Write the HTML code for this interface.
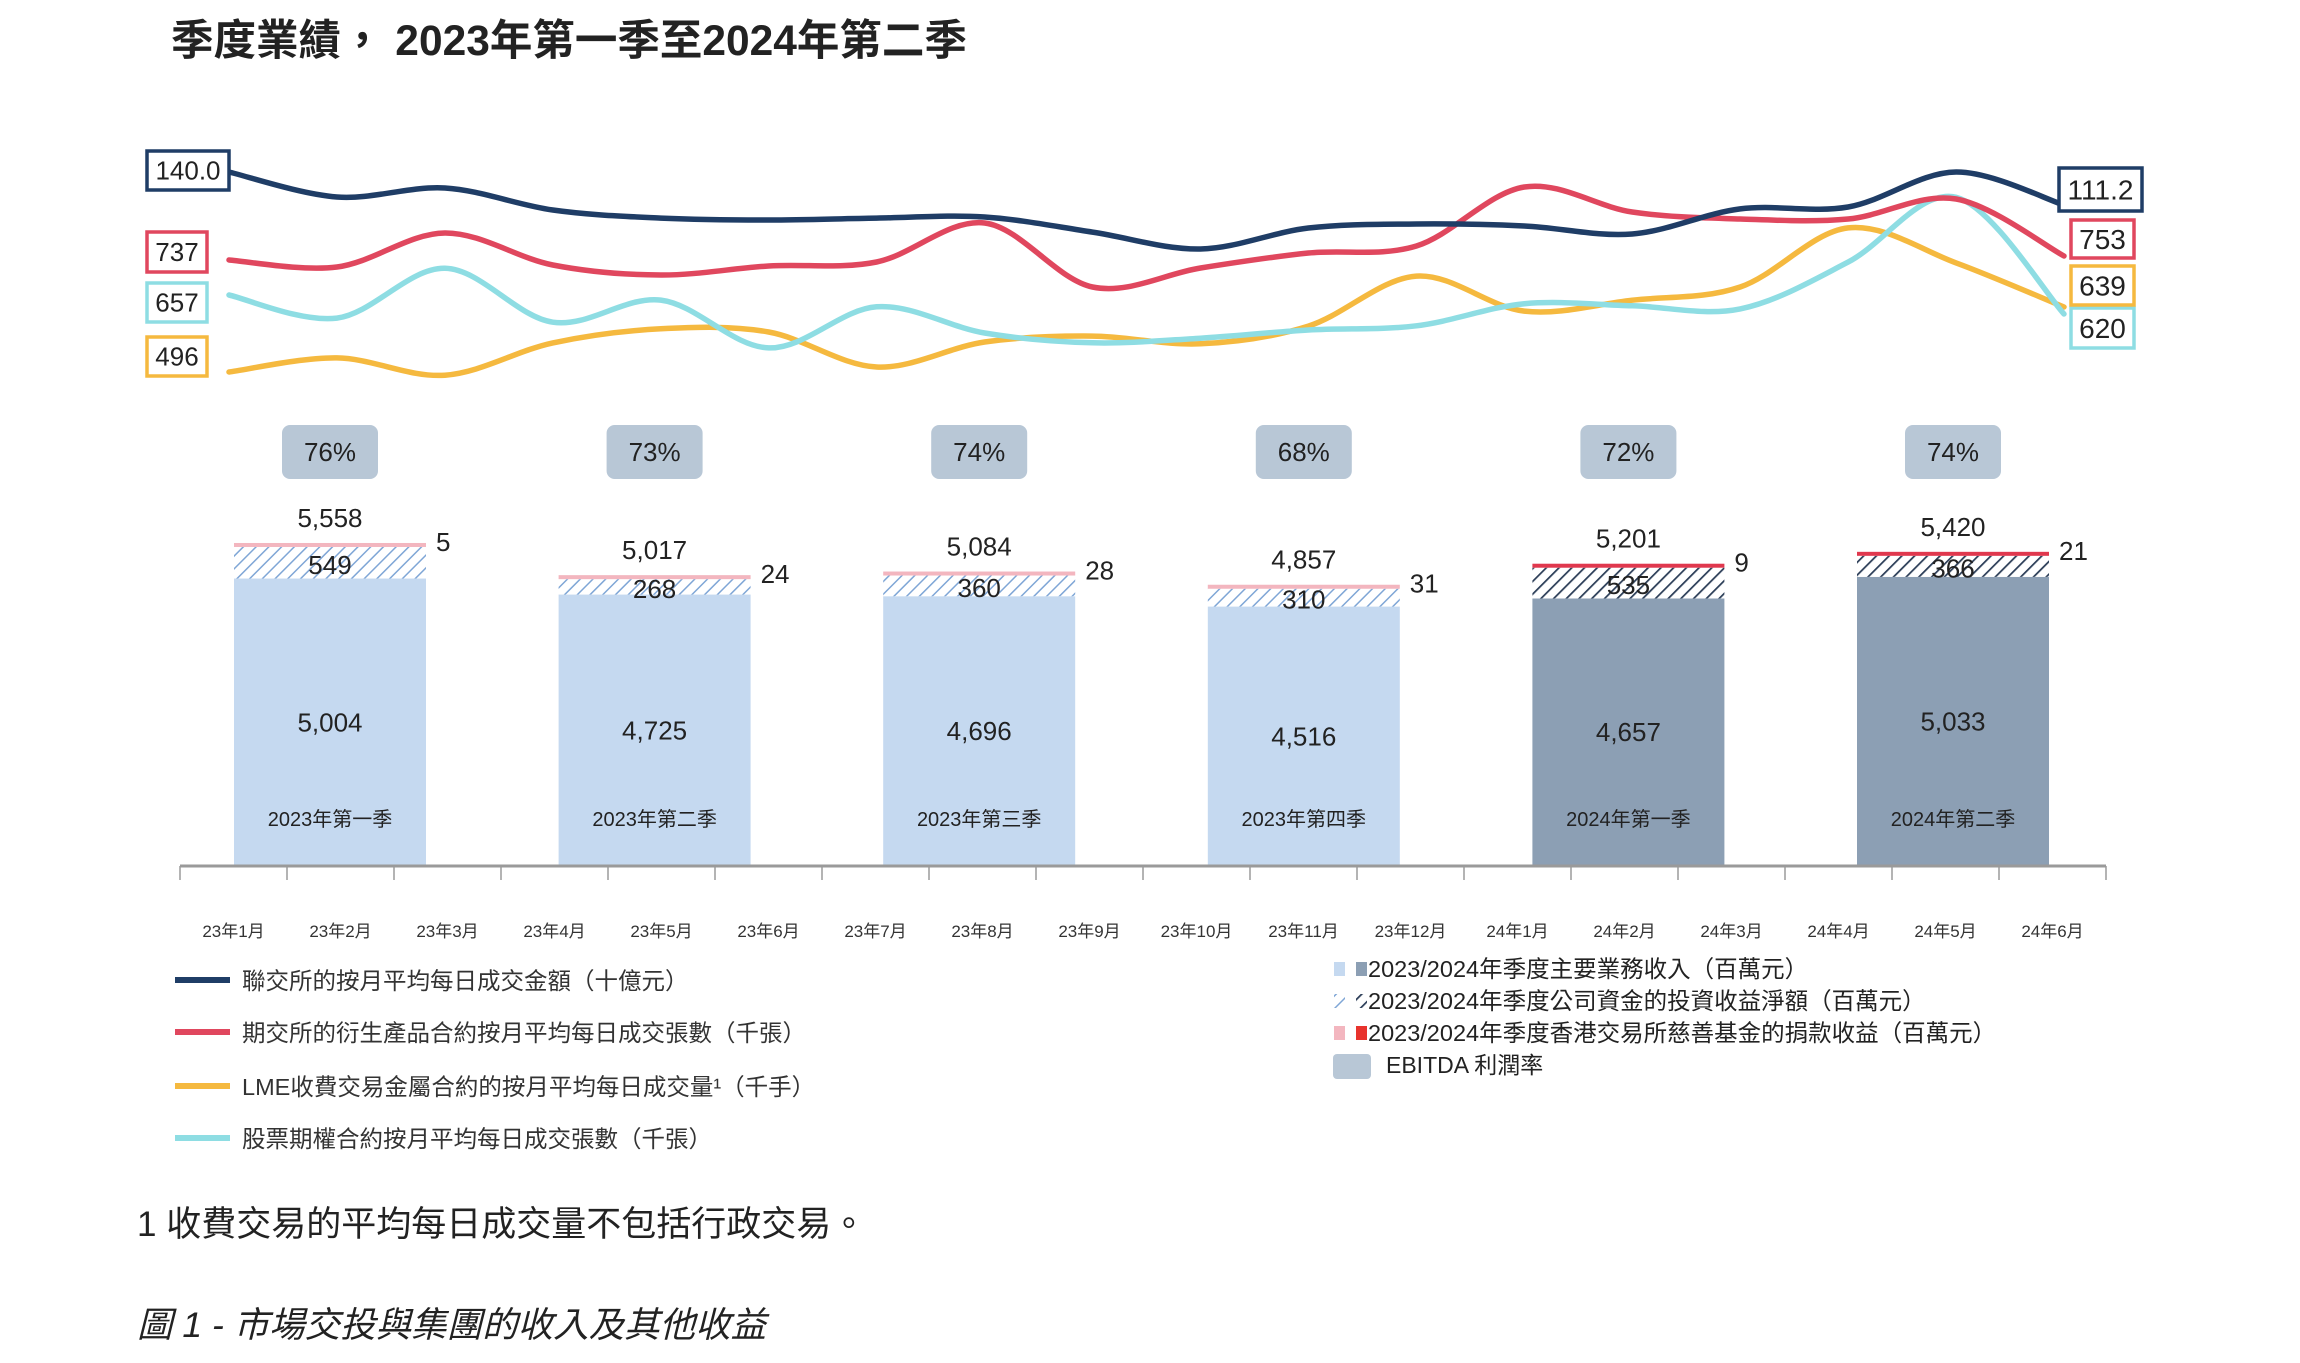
<!DOCTYPE html>
<html><head><meta charset="utf-8">
<style>
html,body{margin:0;padding:0;background:#fff;}
body{width:2300px;height:1358px;overflow:hidden;font-family:"Liberation Sans","Noto Sans CJK TC",sans-serif;}
svg text{font-family:"Liberation Sans Narrow","Liberation Sans","Noto Sans CJK TC",sans-serif;}
</style></head>
<body>
<svg id="chart" width="2300" height="1358" viewBox="0 0 2300 1358" xmlns="http://www.w3.org/2000/svg">
<defs>
<pattern id="hatchLight" patternUnits="userSpaceOnUse" width="9" height="9" patternTransform="rotate(45)">
<rect width="9" height="9" fill="#ffffff"/><line x1="0" y1="0" x2="0" y2="9" stroke="#7fa6d6" stroke-width="3"/></pattern>
<pattern id="hatchDark" patternUnits="userSpaceOnUse" width="9" height="9" patternTransform="rotate(45)">
<rect width="9" height="9" fill="#ffffff"/><line x1="0" y1="0" x2="0" y2="9" stroke="#2b3d57" stroke-width="3.5"/></pattern>
</defs>
<text x="171" y="55" font-size="42.5" font-weight="bold" fill="#222" style="font-family:'Liberation Sans','Noto Sans CJK TC',sans-serif">季度業績， 2023年第一季至2024年第二季</text>
<g id="lines"></g>
<g id="bars"></g>
<g id="axis"></g>
<g id="legend"></g>
<text x="137" y="1236" font-size="35" fill="#222" style="font-family:'Liberation Sans','Noto Sans CJK TC',sans-serif">1 收費交易的平均每日成交量不包括行政交易。</text>
<text x="137" y="1337" font-size="35.5" font-style="italic" fill="#222" style="font-family:'Liberation Sans','Noto Sans CJK TC',sans-serif">圖 1 - 市場交投與集團的收入及其他收益</text>
</svg>
<script>
const months = ["23年1月","23年2月","23年3月","23年4月","23年5月","23年6月","23年7月","23年8月","23年9月","23年10月","23年11月","23年12月","24年1月","24年2月","24年3月","24年4月","24年5月","24年6月"];
const turnoverHKEX = [140.0,118.2,126.0,106.8,99.8,98.1,99.8,100.7,87.6,72.8,91.1,94.6,92.9,85.9,107.8,109.5,140.0,111.2];
const derivContracts = [737,709,845,717,677,713,729,885,629,705,765,793,1029,929,901,901,981,753];
const lmeLots = [496,527,489,560,591,584,507,562,575,558,597,707,630,654,683,813,736,639];
const stockOptions = [657,612,709,604,647,554,634,583,564,573,589,597,640,636,630,721,847,620];
const quarters = ["2023年第一季","2023年第二季","2023年第三季","2023年第四季","2024年第一季","2024年第二季"];
const coreRevenue = [5004,4725,4696,4516,4657,5033];
const investIncome = [549,268,360,310,535,366];
const donationIncome = [5,24,28,31,9,21];
const totalLabels = ["5,558","5,017","5,084","4,857","5,201","5,420"];
const ebitdaMargin = [76,73,74,68,72,74];

const NS="http://www.w3.org/2000/svg";
function mk(tag,attrs,parent,txt){const e=document.createElementNS(NS,tag);for(const k in attrs)e.setAttribute(k,attrs[k]);if(txt!==undefined)e.textContent=txt;parent.appendChild(e);return e;}
function fmt(v){return v.toLocaleString("en-US");}

const axX0=180, axX1=2106, baseY=866;
const monthW=(axX1-axX0)/months.length;
const xMonth=i=>229+i*(2064-229)/(months.length-1);
const yBar=v=>baseY-v*0.05745;

const gl=document.getElementById("lines");
const series=[
 {name:"hkex-turnover-line",data:turnoverHKEX,color:"#1f3d66",y:v=>172+(140-v)*1.146,fmtv:v=>v.toFixed(1),lbox:[147,151,82,39],rbox:[2059,168,83,43]},
 {name:"derivatives-contracts-line",data:derivContracts,color:"#e0475e",y:v=>260-(v-737)*0.25,fmtv:v=>String(v),lbox:[147,232,60,40],rbox:[2071,220,63,38]},
 {name:"stock-options-line",data:stockOptions,color:"#8edde3",y:v=>295-(v-657)*0.514,fmtv:v=>String(v),lbox:[147,283,60,39],rbox:[2071,308,63,40]},
 {name:"lme-lots-line",data:lmeLots,color:"#f5b93f",y:v=>372-(v-496)*0.4545,fmtv:v=>String(v),lbox:[147,337,60,39],rbox:[2071,266,63,39]}
];
function smoothPath(pts){let d="M"+pts[0][0]+","+pts[0][1];for(let i=0;i<pts.length-1;i++){const p0=pts[i-1]||pts[i],p1=pts[i],p2=pts[i+1],p3=pts[i+2]||p2;const t=6;const c1=[p1[0]+(p2[0]-p0[0])/t,p1[1]+(p2[1]-p0[1])/t];const c2=[p2[0]-(p3[0]-p1[0])/t,p2[1]-(p3[1]-p1[1])/t];d+=" C"+c1[0].toFixed(1)+","+c1[1].toFixed(1)+" "+c2[0].toFixed(1)+","+c2[1].toFixed(1)+" "+p2[0].toFixed(1)+","+p2[1].toFixed(1);}return d;}
[series[3],series[2],series[1],series[0]].forEach(s=>{
 const pts=s.data.map((v,i)=>[xMonth(i),s.y(v)]);
 const p=mk("path",{d:smoothPath(pts),fill:"none",stroke:s.color,"stroke-width":5.5,"stroke-linecap":"round"},gl);
 
 
});
series.forEach(s=>{
 [[s.lbox,s.data[0]],[s.rbox,s.data[s.data.length-1]]].forEach(([b,v],k)=>{
  const g=mk("g",{},gl);
  
  
  mk("rect",{x:b[0],y:b[1],width:b[2],height:b[3],fill:"#fff",stroke:s.color,"stroke-width":3.5},g);
  mk("text",{x:b[0]+b[2]/2,y:b[1]+b[3]/2+(k?10:9),"font-size":k?28:26,"text-anchor":"middle",fill:"#222"},g,s.fmtv(v));
 });
});

const gb=document.getElementById("bars");
const barW=192;
quarters.forEach((q,i)=>{
 const cx=330+i*324.6, x=cx-barW/2, dark=i>=4;
 const g=mk("g",{},gb);
 
 
 const mTop=yBar(coreRevenue[i]);
 const r1=mk("rect",{x:x,y:mTop,width:barW,height:baseY-mTop,fill:dark?"#8c9fb4":"#c5d9f0"},g);
 
 
 const iTop=yBar(coreRevenue[i]+investIncome[i]);
 const r2=mk("rect",{x:x,y:iTop,width:barW,height:mTop-iTop,fill:dark?"url(#hatchDark)":"url(#hatchLight)"},g);
 
 
 const dH=Math.max(4,donationIncome[i]*0.05745);
 const r3=mk("rect",{x:x,y:iTop-dH,width:barW,height:dH,fill:dark?"#e0384e":"#f3b6bf"},g);
 
 
 const top=iTop-dH;
 mk("text",{x:cx,y:top-16,"font-size":26,"text-anchor":"middle",fill:"#222"},g,totalLabels[i]);
 mk("text",{x:x+barW+10,y:top+8,"font-size":26,fill:"#222"},g,String(donationIncome[i]));
 mk("text",{x:cx,y:(iTop+mTop)/2+11,"font-size":26,"text-anchor":"middle",fill:"#222"},g,String(investIncome[i]));
 mk("text",{x:cx,y:(mTop+baseY)/2+9,"font-size":26,"text-anchor":"middle",fill:"#222"},g,fmt(coreRevenue[i]));
 mk("text",{x:cx,y:826,"font-size":20,"text-anchor":"middle",fill:"#222",style:"font-family:'Liberation Sans','Noto Sans CJK TC',sans-serif"},g,q);
 const eb=mk("g",{},gb);
 
 
 mk("rect",{x:cx-48,y:425,width:96,height:54,rx:8,fill:"#b8c7d6"},eb);
 mk("text",{x:cx,y:461,"font-size":26,"text-anchor":"middle",fill:"#222"},eb,ebitdaMargin[i]+"%");
});

const ga=document.getElementById("axis");
const al=mk("line",{x1:axX0,y1:baseY,x2:axX1,y2:baseY,stroke:"#9a9a9a","stroke-width":3},ga);


for(let i=0;i<=months.length;i++){const tx=axX0+i*monthW;mk("line",{x1:tx,y1:baseY,x2:tx,y2:baseY+14,stroke:"#9a9a9a","stroke-width":1.5},ga);}
months.forEach((m,i)=>{
 const t=mk("text",{x:axX0+(i+0.5)*monthW,y:937,"font-size":17,"text-anchor":"middle",fill:"#333",style:"font-family:'Liberation Sans','Noto Sans CJK TC',sans-serif"},ga,m);
 
 
});

const lg=document.getElementById("legend");
const lineLegend=[["#1f3d66","聯交所的按月平均每日成交金額（十億元）"],["#e0475e","期交所的衍生產品合約按月平均每日成交張數（千張）"],["#f5b93f","LME收費交易金屬合約的按月平均每日成交量¹（千手）"],["#8edde3","股票期權合約按月平均每日成交張數（千張）"]];
const ly=[981,1033,1087,1139];
lineLegend.forEach((e,i)=>{
 const g=mk("g",{},lg);
 
 
 mk("line",{x1:175,y1:ly[i]-1,x2:230,y2:ly[i]-1,stroke:e[0],"stroke-width":6},g);
 mk("text",{x:242,y:ly[i]+8,"font-size":23.5,fill:"#333",style:"font-family:'Liberation Sans','Noto Sans CJK TC',sans-serif"},g,e[1]);
});
const barLegend=["2023/2024年季度主要業務收入（百萬元）","2023/2024年季度公司資金的投資收益淨額（百萬元）","2023/2024年季度香港交易所慈善基金的捐款收益（百萬元）"];
const by=[969,1001,1033];
barLegend.forEach((t,i)=>{
 const g=mk("g",{},lg);
 
 
 if(i===0){mk("rect",{x:1334,y:by[i]-7,width:11,height:14,fill:"#c5d9f0"},g);mk("rect",{x:1356,y:by[i]-7,width:11,height:14,fill:"#8c9fb4"},g);}
 if(i===1){mk("rect",{x:1334,y:by[i]-7,width:11,height:14,fill:"url(#hatchLight)"},g);mk("rect",{x:1356,y:by[i]-7,width:11,height:14,fill:"url(#hatchDark)"},g);}
 if(i===2){mk("rect",{x:1334,y:by[i]-7,width:11,height:14,fill:"#f3b6bf"},g);mk("rect",{x:1356,y:by[i]-7,width:11,height:14,fill:"#e8332d"},g);}
 mk("text",{x:1368,y:by[i]+8,"font-size":23.5,fill:"#222",style:"font-family:'Liberation Sans','Noto Sans CJK TC',sans-serif"},g,t);
});
const eg=mk("g",{},lg);


mk("rect",{x:1333,y:1054,width:38,height:25,rx:4,fill:"#b8c7d6"},eg);
mk("text",{x:1386,y:1073,"font-size":23,fill:"#222",style:"font-family:'Liberation Sans','Noto Sans CJK TC',sans-serif"},eg,"EBITDA 利潤率");
</script>
</body></html>
